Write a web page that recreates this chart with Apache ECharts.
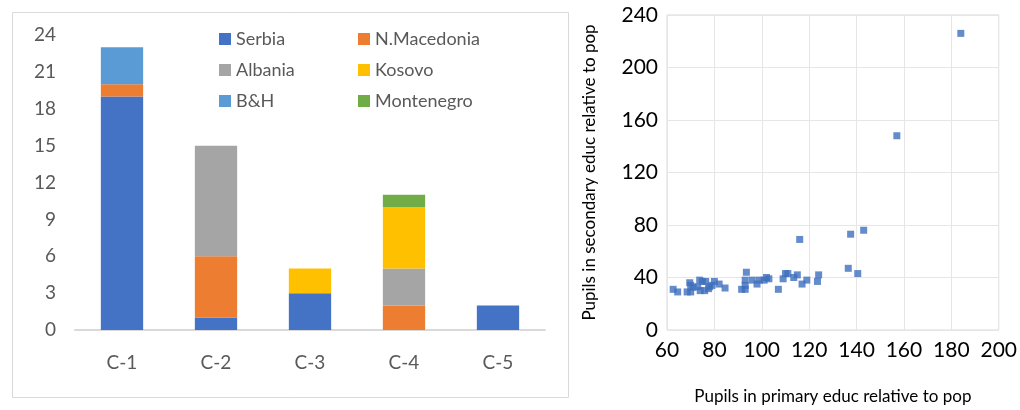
<!DOCTYPE html>
<html>
<head>
<meta charset="utf-8">
<script src="https://cdn.jsdelivr.net/npm/echarts@6/dist/echarts.min.js"></script>
<style>
  html, body { margin: 0; padding: 0; background: #fff; }
  #main { width: 1020px; height: 410px; }
</style>
</head>
<body>
<div id="main"></div>
<script>
// left chart: stacked bars per cluster
var categories = ["C-1", "C-2", "C-3", "C-4", "C-5"];
var serbia = [19, 1, 3, 0, 2];
var nMacedonia = [1, 5, 0, 2, 0];
var albania = [0, 9, 0, 3, 0];
var kosovo = [0, 0, 2, 5, 0];
var bih = [3, 0, 0, 0, 0];
var montenegro = [0, 0, 0, 1, 0];
var barTicks = [0, 3, 6, 9, 12, 15, 18, 21, 24];

// right chart: primary vs secondary pupils
var primaryX = [184, 157, 143, 137.5, 116, 136.5, 140.5, 124, 123.5, 119, 117, 115, 113.5, 111, 110, 109,
  107, 103, 102, 101, 99, 98, 96, 93.5, 93, 93, 93, 91.5, 84.5, 82, 80,
  62.6, 64.5, 68.5, 70, 69.6, 70, 71, 73.8, 75, 76.3, 74, 75.9, 77.5, 78, 73, 79];
var secondaryY = [226, 148, 76, 73, 69, 47, 43, 42, 37, 38, 35, 42, 40, 43, 43, 39,
  31, 39, 40, 38, 38, 35, 38, 44, 38, 34, 31, 31, 32, 35, 37,
  31, 29, 29, 29, 36, 34, 32.5, 38, 37, 37, 30, 30, 31.5, 33, 33, 34];

var font = "Lato";
var myChart = echarts.init(document.getElementById("main"));

function barSeries(name, data, color) {
  return {
    name: name,
    type: "bar",
    stack: "total",
    barWidth: "45%",
    xAxisIndex: 0,
    yAxisIndex: 0,
    data: data,
    itemStyle: { color: color }
  };
}

var legendText = { color: "#595959", fontSize: 18, fontFamily: font };

var option = {
  animation: false,
  textStyle: { fontFamily: font },
  graphic: [{
    type: "rect",
    shape: { x: 12.5, y: 12.5, width: 556, height: 385 },
    style: { fill: null, stroke: "#d9d9d9", lineWidth: 1 },
    z: -1
  }],
  legend: [{
    orient: "vertical",
    left: 214,
    top: 25,
    itemWidth: 12,
    itemHeight: 12,
    itemGap: 13,
    icon: "rect",
    textStyle: legendText,
    data: ["Serbia", "Albania", "B&H"]
  }, {
    orient: "vertical",
    left: 353,
    top: 25,
    itemWidth: 12,
    itemHeight: 12,
    itemGap: 13,
    icon: "rect",
    textStyle: legendText,
    data: ["N.Macedonia", "Kosovo", "Montenegro"]
  }],
  grid: [
    { left: 75, top: 35, width: 470, height: 295 },
    { left: 667, top: 15, width: 335, height: 320, show: true, borderColor: "#d9d9d9", borderWidth: 1 }
  ],
  xAxis: [{
    type: "category",
    gridIndex: 0,
    data: categories,
    axisLine: { lineStyle: { color: "#d9d9d9", width: 2 } },
    axisTick: { show: false },
    axisLabel: { color: "#595959", fontSize: 19, margin: 23 }
  }, {
    type: "value",
    gridIndex: 1,
    min: 60,
    max: 200,
    interval: 20,
    name: "Pupils in primary educ relative to pop",
    nameLocation: "middle",
    nameGap: 58,
    nameTextStyle: { color: "#000", fontSize: 17 },
    axisLine: { show: false },
    axisTick: { show: false },
    splitLine: { lineStyle: { color: "#e6e6e6" } },
    axisLabel: { color: "#000", fontSize: 21, margin: 10 }
  }],
  yAxis: [{
    type: "value",
    gridIndex: 0,
    min: 0,
    max: 24,
    interval: 3,
    axisLine: { show: false },
    axisTick: { show: false },
    splitLine: { show: false },
    axisLabel: { color: "#595959", fontSize: 19, margin: 19 },
    data: barTicks
  }, {
    type: "value",
    gridIndex: 1,
    min: 0,
    max: 240,
    interval: 40,
    name: "Pupils in secondary educ relative to pop",
    nameLocation: "middle",
    nameGap: 69,
    nameTextStyle: { color: "#000", fontSize: 17 },
    axisLine: { show: false },
    axisTick: { show: false },
    splitLine: { lineStyle: { color: "#e6e6e6" } },
    axisLabel: { color: "#000", fontSize: 21, margin: 9 }
  }],
  series: [
    barSeries("Serbia", serbia, "#4472c4"),
    barSeries("N.Macedonia", nMacedonia, "#ed7d31"),
    barSeries("Albania", albania, "#a5a5a5"),
    barSeries("Kosovo", kosovo, "#ffc000"),
    barSeries("B&H", bih, "#5b9bd5"),
    barSeries("Montenegro", montenegro, "#70ad47"),
    {
      name: "pupils",
      type: "scatter",
      xAxisIndex: 1,
      yAxisIndex: 1,
      symbol: "rect",
      symbolSize: 7,
      itemStyle: { color: "#3e6fbd" },
      data: primaryX.map(function (x, i) { return [x, secondaryY[i]]; })
    }
  ]
};
myChart.setOption(option);
</script>
</body>
</html>
